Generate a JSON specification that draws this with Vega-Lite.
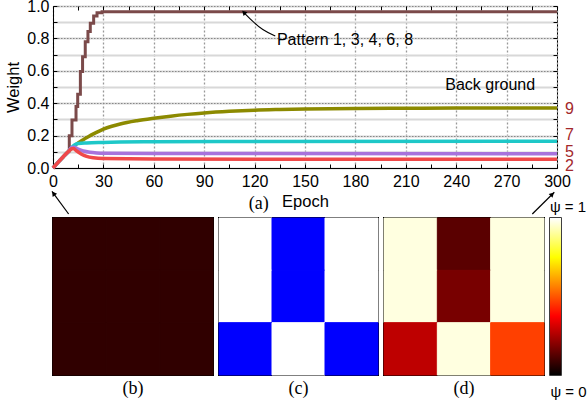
{
  "$schema": "https://vega.github.io/schema/vega-lite/v6.json",
  "padding": {"left": 5, "top": -3, "right": 0, "bottom": 0},
  "bounds": "flush",
  "spacing": 50,
  "resolve": {"scale": {"color": "independent"}},
  "config": {
    "view": {"stroke": "black"},
    "axis": {"labelFont": "Liberation Sans", "labelFontSize": 16, "labelColor": "#000", "titleFont": "Liberation Sans", "titleFontSize": 16.5, "titleFontWeight": "normal", "titleColor": "#000", "tickColor": "#000", "domainColor": "#000", "labelFlush": false, "labelOverlap": false},
    "title": {"font": "Liberation Serif", "fontSize": 18, "fontWeight": "normal", "color": "#000"},
    "text": {"font": "Liberation Sans"}
  },
  "datasets": {
    "brown": [
      {"i":0,"epoch":0,"weight":0},{"i":1,"epoch":3,"weight":0.035},{"i":2,"epoch":6,"weight":0.068},
      {"i":3,"epoch":9.7,"weight":0.103},{"i":4,"epoch":9.7,"weight":0.199},{"i":5,"epoch":11.3,"weight":0.199},
      {"i":6,"epoch":11.3,"weight":0.297},{"i":7,"epoch":13.7,"weight":0.297},{"i":8,"epoch":13.7,"weight":0.38},
      {"i":9,"epoch":14.7,"weight":0.38},{"i":10,"epoch":14.7,"weight":0.455},{"i":11,"epoch":16.3,"weight":0.455},
      {"i":12,"epoch":16.3,"weight":0.595},{"i":13,"epoch":17.6,"weight":0.595},{"i":14,"epoch":17.6,"weight":0.687},
      {"i":15,"epoch":19.2,"weight":0.687},{"i":16,"epoch":19.2,"weight":0.78},{"i":17,"epoch":20.8,"weight":0.78},
      {"i":18,"epoch":20.8,"weight":0.842},{"i":19,"epoch":22.2,"weight":0.842},{"i":20,"epoch":22.2,"weight":0.893},
      {"i":21,"epoch":24.2,"weight":0.893},{"i":22,"epoch":24.2,"weight":0.938},{"i":23,"epoch":26.2,"weight":0.938},
      {"i":24,"epoch":26.2,"weight":0.959},{"i":25,"epoch":29.2,"weight":0.959},{"i":26,"epoch":29.2,"weight":0.965},
      {"i":27,"epoch":300,"weight":0.965}
    ],
    "lines": [
      {"series":"9","epoch":0,"weight":0},{"series":"9","epoch":3,"weight":0.035},{"series":"9","epoch":6,"weight":0.068},
      {"series":"9","epoch":9,"weight":0.1},{"series":"9","epoch":12,"weight":0.13},{"series":"9","epoch":15,"weight":0.155},
      {"series":"9","epoch":18,"weight":0.175},{"series":"9","epoch":21,"weight":0.193},{"series":"9","epoch":25,"weight":0.215},
      {"series":"9","epoch":30,"weight":0.24},{"series":"9","epoch":35,"weight":0.258},{"series":"9","epoch":40,"weight":0.272},
      {"series":"9","epoch":50,"weight":0.292},{"series":"9","epoch":60,"weight":0.307},{"series":"9","epoch":70,"weight":0.32},
      {"series":"9","epoch":80,"weight":0.331},{"series":"9","epoch":90,"weight":0.34},{"series":"9","epoch":105,"weight":0.35},
      {"series":"9","epoch":120,"weight":0.357},{"series":"9","epoch":135,"weight":0.361},{"series":"9","epoch":150,"weight":0.364},
      {"series":"9","epoch":180,"weight":0.368},{"series":"9","epoch":210,"weight":0.369},{"series":"9","epoch":240,"weight":0.37},
      {"series":"9","epoch":270,"weight":0.37},{"series":"9","epoch":300,"weight":0.37},
      {"series":"7","epoch":0,"weight":0},{"series":"7","epoch":3,"weight":0.035},{"series":"7","epoch":6,"weight":0.068},
      {"series":"7","epoch":9,"weight":0.1},{"series":"7","epoch":11,"weight":0.125},{"series":"7","epoch":13,"weight":0.143},
      {"series":"7","epoch":15,"weight":0.151},{"series":"7","epoch":20,"weight":0.155},{"series":"7","epoch":30,"weight":0.158},
      {"series":"7","epoch":60,"weight":0.162},{"series":"7","epoch":100,"weight":0.164},{"series":"7","epoch":300,"weight":0.165},
      {"series":"5","epoch":0,"weight":0},{"series":"5","epoch":3,"weight":0.035},{"series":"5","epoch":6,"weight":0.068},
      {"series":"5","epoch":9,"weight":0.1},{"series":"5","epoch":11,"weight":0.125},{"series":"5","epoch":12.5,"weight":0.128},
      {"series":"5","epoch":15,"weight":0.116},{"series":"5","epoch":18,"weight":0.105},{"series":"5","epoch":22,"weight":0.097},
      {"series":"5","epoch":26,"weight":0.093},{"series":"5","epoch":30,"weight":0.091},{"series":"5","epoch":60,"weight":0.089},
      {"series":"5","epoch":300,"weight":0.088},
      {"series":"2","epoch":0,"weight":0},{"series":"2","epoch":3,"weight":0.035},{"series":"2","epoch":6,"weight":0.068},
      {"series":"2","epoch":9,"weight":0.1},{"series":"2","epoch":11,"weight":0.118},{"series":"2","epoch":12.2,"weight":0.121},
      {"series":"2","epoch":14,"weight":0.105},{"series":"2","epoch":17,"weight":0.085},{"series":"2","epoch":20,"weight":0.072},
      {"series":"2","epoch":24,"weight":0.063},{"series":"2","epoch":30,"weight":0.058},{"series":"2","epoch":60,"weight":0.055},
      {"series":"2","epoch":300,"weight":0.054}
    ],
    "ann": [
      {"t":"Pattern 1, 3, 4, 6, 8","x":133.3,"y":0.79},
      {"t":"Back ground","x":233.5,"y":0.513}
    ],
    "side": [
      {"t":"9","x":300,"y":0.366},
      {"t":"7","x":300,"y":0.206},
      {"t":"5","x":300,"y":0.1},
      {"t":"2","x":300,"y":0.01}
    ],
    "curve": [
      {"x":113.9,"y":0.957},{"x":118.6,"y":0.907},{"x":124.6,"y":0.852},{"x":132.3,"y":0.815}
    ],
    "arrows": [
      {"x":-0.6,"y":-0.144,"x2":9.3,"y2":-0.284},
      {"x":298.4,"y":-0.15,"x2":285.3,"y2":-0.284}
    ],
    "hb": [
      {"row":1,"col":1,"psi":0.0706},{"row":1,"col":2,"psi":0.0706},{"row":1,"col":3,"psi":0.0706},
      {"row":2,"col":1,"psi":0.0706},{"row":2,"col":2,"psi":0.0706},{"row":2,"col":3,"psi":0.0706},
      {"row":3,"col":1,"psi":0.0706},{"row":3,"col":2,"psi":0.0706},{"row":3,"col":3,"psi":0.0706}
    ],
    "hc": [
      {"row":1,"col":1,"on":0},{"row":1,"col":2,"on":1},{"row":1,"col":3,"on":0},
      {"row":2,"col":1,"on":0},{"row":2,"col":2,"on":1},{"row":2,"col":3,"on":0},
      {"row":3,"col":1,"on":1},{"row":3,"col":2,"on":0},{"row":3,"col":3,"on":1}
    ],
    "hd": [
      {"row":1,"col":1,"psi":0.97},{"row":1,"col":2,"psi":0.132},{"row":1,"col":3,"psi":0.97},
      {"row":2,"col":1,"psi":0.97},{"row":2,"col":2,"psi":0.176},{"row":2,"col":3,"psi":0.97},
      {"row":3,"col":1,"psi":0.279},{"row":3,"col":2,"psi":0.97},{"row":3,"col":3,"psi":0.469}
    ]
  },
  "vconcat": [
    {
      "width": 504,
      "height": 162,
      "view": {"stroke": "black", "strokeWidth": 1},
      "resolve": {"axis": {"x": "independent", "y": "independent"}},
      "layer": [
        {
          "data": {"name": "brown"},
          "mark": {"type": "line", "color": "#7b4a4a", "strokeWidth": 3},
          "encoding": {
            "x": {"field": "epoch", "type": "quantitative", "scale": {"domain": [0, 300], "nice": false},
              "axis": {"orient": "bottom", "values": [0,15,30,45,60,75,90,105,120,135,150,165,180,195,210,225,240,255,270,285,300],
                "labelExpr": "datum.value % 30 === 0 ? datum.label : ''",
                "tickSize": -4, "labelPadding": 9, "grid": true, "gridDash": [2, 2], "gridColor": "#999999", "gridWidth": 1.3,
                "gridOpacity": {"condition": {"test": "datum.value % 30 === 0", "value": 1}, "value": 0},
                "title": "Epoch", "titlePadding": 4}},
            "y": {"field": "weight", "type": "quantitative", "scale": {"domain": [0, 1], "nice": false},
              "axis": {"orient": "left", "values": [0,0.1,0.2,0.3,0.4,0.5,0.6,0.7,0.8,0.9,1],
                "labelExpr": "round(datum.value*10) % 2 === 0 ? format(datum.value, '.1f') : ''",
                "tickSize": -4, "labelPadding": 8, "grid": true, "gridColor": "#d8d8d8", "gridWidth": 2,
                "title": "Weight", "titlePadding": 5}},
            "order": {"field": "i", "type": "quantitative"}
          }
        },
        {
          "data": {"name": "lines"},
          "mark": {"type": "line", "strokeWidth": 3.5, "interpolate": "monotone"},
          "encoding": {
            "x": {"field": "epoch", "type": "quantitative", "scale": {"domain": [0, 300], "nice": false},
              "axis": {"orient": "top", "values": [0,15,30,45,60,75,90,105,120,135,150,165,180,195,210,225,240,255,270,285,300],
                "labels": false, "tickSize": -4, "grid": false, "title": null, "domain": false}},
            "y": {"field": "weight", "type": "quantitative", "scale": {"domain": [0, 1], "nice": false},
              "axis": {"orient": "right", "values": [0,0.1,0.2,0.3,0.4,0.5,0.6,0.7,0.8,0.9,1],
                "labels": false, "tickSize": -4, "title": null, "domain": false,
                "grid": true, "gridDash": [1.5, 1.5], "gridColor": "#888888", "gridWidth": 1,
                "gridOpacity": {"condition": {"test": "round(datum.value*10) % 2 === 0", "value": 1}, "value": 0}}},
            "color": {"field": "series", "type": "nominal",
              "scale": {"domain": ["2", "5", "7", "9"], "range": ["#f04848", "#a873dc", "#1ec8c8", "#8c8a00"]},
              "legend": null}
          }
        },
        {
          "data": {"name": "ann"},
          "mark": {"type": "text", "align": "left", "baseline": "middle", "fontSize": 16, "font": "Liberation Sans", "color": "#000"},
          "encoding": {
            "x": {"field": "x", "type": "quantitative", "scale": {"domain": [0, 300], "nice": false}, "axis": null},
            "y": {"field": "y", "type": "quantitative", "scale": {"domain": [0, 1], "nice": false}, "axis": null},
            "text": {"field": "t"}
          }
        },
        {
          "data": {"name": "side"},
          "mark": {"type": "text", "align": "left", "baseline": "middle", "fontSize": 16, "font": "Liberation Sans", "color": "#a3282b", "dx": 8},
          "encoding": {
            "x": {"field": "x", "type": "quantitative", "scale": {"domain": [0, 300], "nice": false}, "axis": null},
            "y": {"field": "y", "type": "quantitative", "scale": {"domain": [0, 1], "nice": false}, "axis": null},
            "text": {"field": "t"}
          }
        },
        {
          "data": {"values": [{"t": "(a)", "x": 122.5, "y": -0.225}]},
          "mark": {"type": "text", "align": "center", "baseline": "middle", "fontSize": 18, "font": "Liberation Serif", "color": "#000"},
          "encoding": {
            "x": {"field": "x", "type": "quantitative", "scale": {"domain": [0, 300], "nice": false}, "axis": null},
            "y": {"field": "y", "type": "quantitative", "scale": {"domain": [0, 1], "nice": false}, "axis": null},
            "text": {"field": "t"}
          }
        },
        {
          "data": {"name": "curve"},
          "mark": {"type": "line", "color": "#000", "strokeWidth": 1.1, "interpolate": "basis"},
          "encoding": {
            "x": {"field": "x", "type": "quantitative", "scale": {"domain": [0, 300], "nice": false}, "axis": null},
            "y": {"field": "y", "type": "quantitative", "scale": {"domain": [0, 1], "nice": false}, "axis": null}
          }
        },
        {
          "data": {"name": "arrows"},
          "mark": {"type": "rule", "color": "#000", "strokeWidth": 1.2},
          "encoding": {
            "x": {"field": "x", "type": "quantitative", "scale": {"domain": [0, 300], "nice": false}, "axis": null},
            "y": {"field": "y", "type": "quantitative", "scale": {"domain": [0, 1], "nice": false}, "axis": null},
            "x2": {"field": "x2"},
            "y2": {"field": "y2"}
          }
        },
        {
          "data": {"values": [{"x": 113.6, "y": 0.96}]},
          "mark": {"type": "point", "shape": "triangle-up", "filled": true, "color": "#000", "opacity": 1, "size": 30, "angle": 315},
          "encoding": {
            "x": {"field": "x", "type": "quantitative", "scale": {"domain": [0, 300], "nice": false}, "axis": null},
            "y": {"field": "y", "type": "quantitative", "scale": {"domain": [0, 1], "nice": false}, "axis": null}
          }
        },
        {
          "data": {"values": [{"x": 0.3, "y": -0.157}]},
          "mark": {"type": "point", "shape": "triangle-up", "filled": true, "color": "#000", "opacity": 1, "size": 30, "angle": 324},
          "encoding": {
            "x": {"field": "x", "type": "quantitative", "scale": {"domain": [0, 300], "nice": false}, "axis": null},
            "y": {"field": "y", "type": "quantitative", "scale": {"domain": [0, 1], "nice": false}, "axis": null}
          }
        },
        {
          "data": {"values": [{"x": 297.2, "y": -0.162}]},
          "mark": {"type": "point", "shape": "triangle-up", "filled": true, "color": "#000", "opacity": 1, "size": 30, "angle": 46},
          "encoding": {
            "x": {"field": "x", "type": "quantitative", "scale": {"domain": [0, 300], "nice": false}, "axis": null},
            "y": {"field": "y", "type": "quantitative", "scale": {"domain": [0, 1], "nice": false}, "axis": null}
          }
        }
      ]
    },
    {
      "hconcat": [
        {
          "width": 160, "height": 157,
          "view": {"stroke": "black", "strokeWidth": 2},
          "title": {"text": "(b)", "orient": "bottom", "offset": 4},
          "data": {"name": "hb"},
          "mark": {"type": "rect", "opacity": 1, "strokeWidth": 1},
          "encoding": {
            "x": {"field": "col", "type": "ordinal", "axis": null},
            "y": {"field": "row", "type": "ordinal", "axis": null},
            "color": {"field": "psi", "type": "quantitative",
              "scale": {"type": "linear", "domain": [0, 0.375, 0.75, 1], "range": ["#000000", "#ff0000", "#ffff00", "#ffffff"], "interpolate": "rgb"},
              "legend": null},
            "stroke": {"field": "psi", "type": "quantitative",
              "scale": {"type": "linear", "domain": [0, 0.375, 0.75, 1], "range": ["#000000", "#ff0000", "#ffff00", "#ffffff"], "interpolate": "rgb"},
              "legend": null}
          }
        },
        {
          "width": 159, "height": 157,
          "view": {"stroke": "black", "strokeWidth": 2},
          "title": {"text": "(c)", "orient": "bottom", "offset": 4},
          "data": {"name": "hc"},
          "mark": {"type": "rect", "opacity": 1, "strokeWidth": 1},
          "encoding": {
            "x": {"field": "col", "type": "ordinal", "axis": null},
            "y": {"field": "row", "type": "ordinal", "axis": null},
            "color": {"field": "on", "type": "quantitative",
              "scale": {"type": "linear", "domain": [0, 1], "range": ["#ffffff", "#0000ff"], "interpolate": "rgb"},
              "legend": null},
            "stroke": {"field": "on", "type": "quantitative",
              "scale": {"type": "linear", "domain": [0, 1], "range": ["#ffffff", "#0000ff"], "interpolate": "rgb"},
              "legend": null}
          }
        },
        {
          "width": 160, "height": 157,
          "view": {"stroke": "black", "strokeWidth": 2},
          "title": {"text": "(d)", "orient": "bottom", "offset": 4},
          "data": {"name": "hd"},
          "mark": {"type": "rect", "opacity": 1, "strokeWidth": 1},
          "encoding": {
            "x": {"field": "col", "type": "ordinal", "axis": null},
            "y": {"field": "row", "type": "ordinal", "axis": null},
            "color": {"field": "psi", "type": "quantitative",
              "scale": {"type": "linear", "domain": [0, 0.375, 0.75, 1], "range": ["#000000", "#ff0000", "#ffff00", "#ffffff"], "interpolate": "rgb"},
              "legend": null},
            "stroke": {"field": "psi", "type": "quantitative",
              "scale": {"type": "linear", "domain": [0, 0.375, 0.75, 1], "range": ["#000000", "#ff0000", "#ffff00", "#ffffff"], "interpolate": "rgb"},
              "legend": null}
          }
        },
        {
          "width": 11, "height": 157,
          "view": {"stroke": "black", "strokeWidth": 1.5},
          "title": {"text": "ψ = 1", "anchor": "start", "offset": 3, "font": "Liberation Sans", "fontSize": 15},
          "data": {"values": [{}]},
          "mark": {"type": "rect", "fill": {"gradient": "linear", "x1": 0, "y1": 1, "x2": 0, "y2": 0,
            "stops": [{"offset": 0, "color": "#000000"}, {"offset": 0.375, "color": "#ff0000"}, {"offset": 0.75, "color": "#ffff00"}, {"offset": 1, "color": "#ffffff"}]}},
          "encoding": {
            "x": {"datum": 0, "type": "quantitative", "scale": {"domain": [0, 1], "nice": false},
              "axis": {"title": "ψ = 0", "labels": false, "ticks": false, "domain": false, "grid": false, "titleAnchor": "start", "titlePadding": 9, "titleFontSize": 15}},
            "x2": {"datum": 1},
            "y": {"datum": 0, "type": "quantitative", "scale": {"domain": [0, 1], "nice": false}, "axis": null},
            "y2": {"datum": 1}
          }
        }
      ],
      "spacing": 6,
      "bounds": "flush",
      "resolve": {"scale": {"color": "independent", "stroke": "independent", "x": "independent", "y": "independent"}}
    }
  ]
}
